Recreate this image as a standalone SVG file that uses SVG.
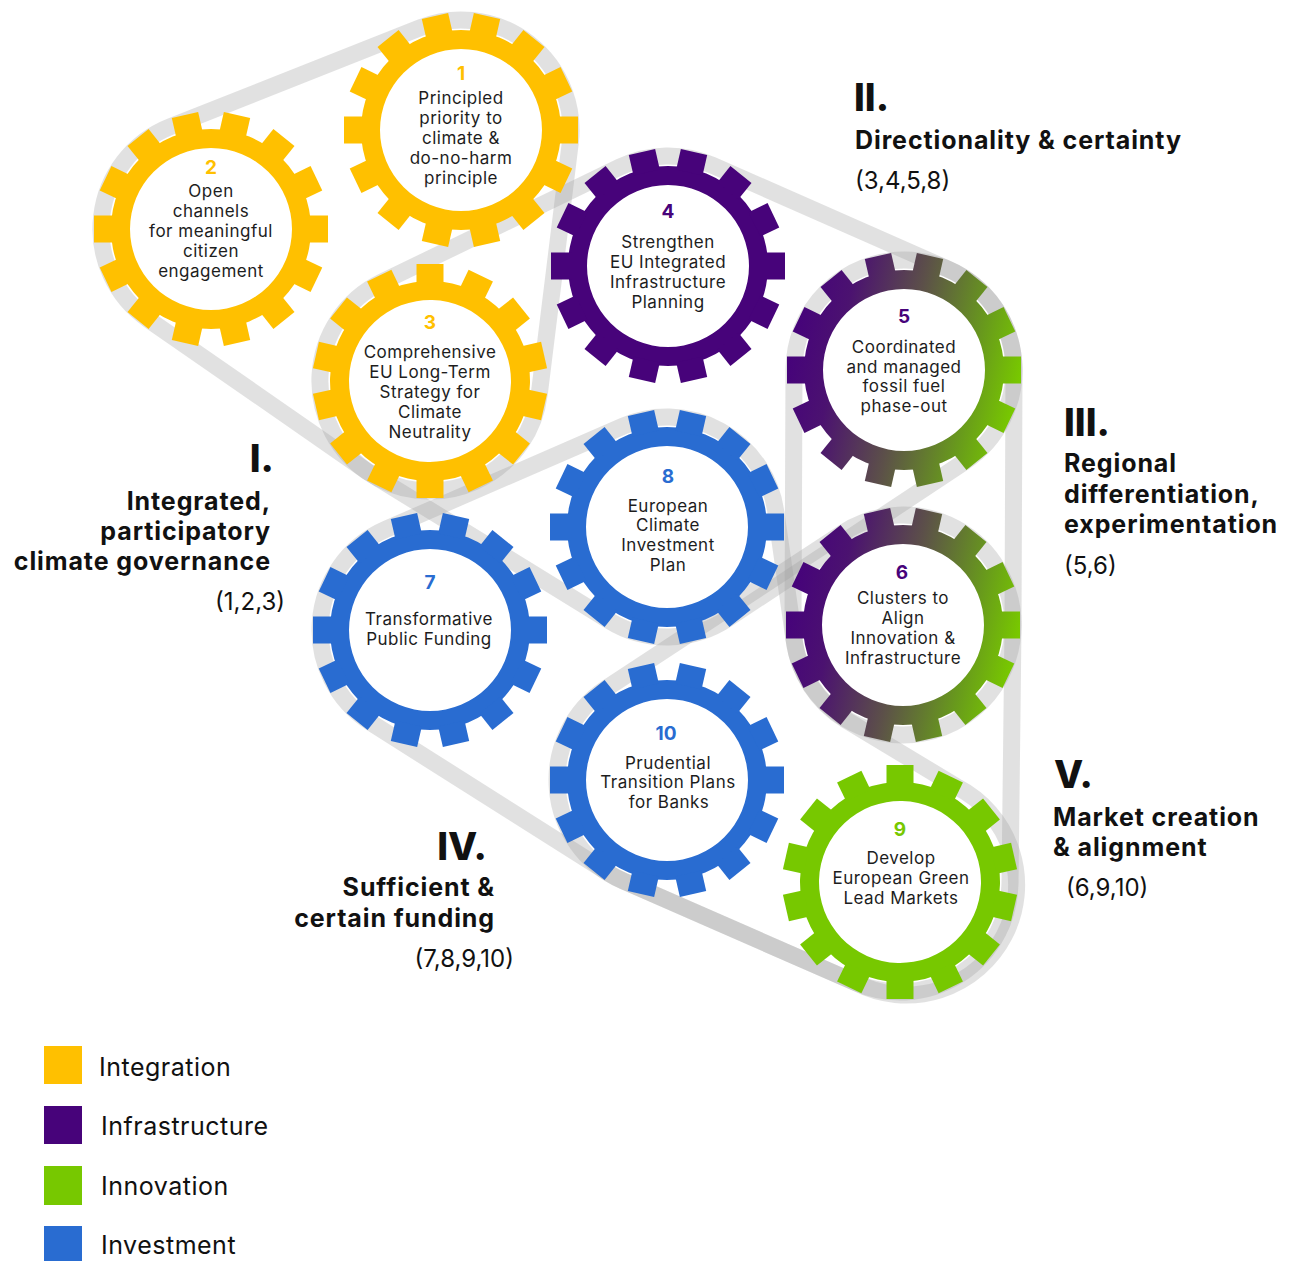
<svg xmlns="http://www.w3.org/2000/svg" xmlns:xlink="http://www.w3.org/1999/xlink" width="1296" height="1261" viewBox="0 0 1296 1261">
<defs>
<style>
.belt{fill:none;stroke:#9b9b9b;stroke-opacity:.3;stroke-width:17;stroke-linejoin:round}
.t{font-family:Inter,"Noto Sans","DejaVu Sans",sans-serif;font-size:17px;letter-spacing:0.5px;fill:#1d1d1d;text-anchor:middle}
.n{font-family:Inter,"Noto Sans","DejaVu Sans",sans-serif;font-size:19px;font-weight:700;text-anchor:middle}
.h{font-family:Inter,"Noto Sans","DejaVu Sans",sans-serif;font-weight:800;font-size:38px;fill:#111}
.s{font-family:Inter,"Noto Sans","DejaVu Sans",sans-serif;font-weight:700;font-size:25px;letter-spacing:0.9px;fill:#111}
.p{font-family:Inter,"Noto Sans","DejaVu Sans",sans-serif;font-weight:400;font-size:24px;fill:#111}
.lg{font-family:Inter,"Noto Sans","DejaVu Sans",sans-serif;font-weight:400;font-size:25px;letter-spacing:0.5px;fill:#111}
.e{text-anchor:end}
</style>
<linearGradient id="gr" gradientUnits="userSpaceOnUse" x1="-112" y1="-25" x2="112" y2="25">
<stop offset="0" stop-color="#46037a"/>
<stop offset="0.2" stop-color="#4b1270"/>
<stop offset="0.5" stop-color="#5c5049"/>
<stop offset="0.8" stop-color="#689a1c"/>
<stop offset="1" stop-color="#78c800"/>
</linearGradient>
<g id="gshape">
<path fill-rule="evenodd" d="M100,0A100,100 0 1 1 -100,0A100,100 0 1 1 100,0ZM81,0A81,81 0 1 0 -81,0A81,81 0 1 0 81,0Z"/>
<rect x="-13.5" y="-117" width="27" height="21" transform="rotate(12.857)"/>
<rect x="-13.5" y="-117" width="27" height="21" transform="rotate(38.571)"/>
<rect x="-13.5" y="-117" width="27" height="21" transform="rotate(64.286)"/>
<rect x="-13.5" y="-117" width="27" height="21" transform="rotate(90)"/>
<rect x="-13.5" y="-117" width="27" height="21" transform="rotate(115.714)"/>
<rect x="-13.5" y="-117" width="27" height="21" transform="rotate(141.429)"/>
<rect x="-13.5" y="-117" width="27" height="21" transform="rotate(167.143)"/>
<rect x="-13.5" y="-117" width="27" height="21" transform="rotate(192.857)"/>
<rect x="-13.5" y="-117" width="27" height="21" transform="rotate(218.571)"/>
<rect x="-13.5" y="-117" width="27" height="21" transform="rotate(244.286)"/>
<rect x="-13.5" y="-117" width="27" height="21" transform="rotate(270)"/>
<rect x="-13.5" y="-117" width="27" height="21" transform="rotate(295.714)"/>
<rect x="-13.5" y="-117" width="27" height="21" transform="rotate(321.429)"/>
<rect x="-13.5" y="-117" width="27" height="21" transform="rotate(347.143)"/>
</g>
<g id="gear">
<circle r="81.5" fill="#fff"/>
<use xlink:href="#gshape" href="#gshape"/>
</g>
<mask id="gm" maskContentUnits="userSpaceOnUse">
<use xlink:href="#gshape" href="#gshape" fill="#fff"/>
</mask>
</defs>
<rect width="1296" height="1261" fill="#fff"/>

<g id="connectors">
<path id="belt-I" class="belt" d="M170.5,126.7 L420.5,27.7 A110,110 0 0 1 570.2,143.5 L539.2,394.5 A110,110 0 0 1 367.3,471.4 L148.3,319.4 A110,110 0 0 1 170.5,126.7 Z"/>
<path id="belt-II" class="belt" d="M382.1,281.9 L620.1,166.9 A110,110 0 0 1 712.4,165.3 L948.4,269.3 A110,110 0 0 1 964.7,461.7 L727.7,618.7 A110,110 0 0 1 609.3,620.7 L372.3,474.7 A110,110 0 0 1 382.1,281.9 Z"/>
<path id="belt-III" class="belt" d="M794,369.6 A110,110 0 0 1 1014,370.4 L1013,625.4 A110,110 0 0 1 793,624.6 Z"/>
<path id="belt-IV" class="belt" d="M386.2,529.1 L623.2,426.1 A110,110 0 0 1 775.8,511.6 L794.2,640.4 A110,110 0 0 0 845.9,720 L957.1,787 A110,110 0 0 1 855.9,982.8 L622.9,880.8 A110,110 0 0 1 608.2,872.9 L371.2,722.9 A110,110 0 0 1 386.2,529.1 Z"/>
<path id="belt-V" class="belt" d="M606.6,688.1 L842.6,533.1 A110,110 0 0 1 1013,626.3 L1010,883.3 A110,110 0 0 1 855.9,982.8 L622.9,880.8 A110,110 0 0 1 606.6,688.1 Z"/>
</g>

<g id="gear1">
<use xlink:href="#gear" href="#gear" transform="translate(461,130)" fill="#FFC000"/>
<text class="n" x="461" y="80" fill="#FFC000">1</text>
<text class="t" x="461" y="104">Principled</text>
<text class="t" x="461" y="124">priority to</text>
<text class="t" x="461" y="144">climate &amp;</text>
<text class="t" x="461" y="164">do-no-harm</text>
<text class="t" x="461" y="184">principle</text>
</g>
<g id="gear2">
<use xlink:href="#gear" href="#gear" transform="translate(211,229)" fill="#FFC000"/>
<text class="n" x="211" y="174" fill="#FFC000">2</text>
<text class="t" x="211" y="197">Open</text>
<text class="t" x="211" y="217">channels</text>
<text class="t" x="211" y="237">for meaningful</text>
<text class="t" x="211" y="257">citizen</text>
<text class="t" x="211" y="277">engagement</text>
</g>
<g id="gear3">
<use xlink:href="#gear" href="#gear" transform="translate(430,381) rotate(12.857)" fill="#FFC000"/>
<text class="n" x="430" y="329" fill="#FFC000">3</text>
<text class="t" x="430" y="358">Comprehensive</text>
<text class="t" x="430" y="378">EU Long-Term</text>
<text class="t" x="430" y="398">Strategy for</text>
<text class="t" x="430" y="418">Climate</text>
<text class="t" x="430" y="438">Neutrality</text>
</g>
<g id="gear4">
<use xlink:href="#gear" href="#gear" transform="translate(668,266)" fill="#47037A"/>
<text class="n" x="668" y="218" fill="#47037A">4</text>
<text class="t" x="668" y="248">Strengthen</text>
<text class="t" x="668" y="268">EU Integrated</text>
<text class="t" x="668" y="288">Infrastructure</text>
<text class="t" x="668" y="308">Planning</text>
</g>
<g id="gear5">
<g transform="translate(904,370)">
<circle r="81.5" fill="#fff"/>
<rect x="-120" y="-120" width="240" height="240" fill="url(#gr)" mask="url(#gm)"/>
</g>
<text class="n" x="904" y="323" fill="#47037A">5</text>
<text class="t" x="904" y="353">Coordinated</text>
<text class="t" x="904" y="373">and managed</text>
<text class="t" x="904" y="392">fossil fuel</text>
<text class="t" x="904" y="412">phase-out</text>
</g>
<g id="gear6">
<g transform="translate(903,625)">
<circle r="81.5" fill="#fff"/>
<rect x="-120" y="-120" width="240" height="240" fill="url(#gr)" mask="url(#gm)"/>
</g>
<text class="n" x="902" y="579" fill="#47037A">6</text>
<text class="t" x="903" y="604">Clusters to</text>
<text class="t" x="903" y="624">Align</text>
<text class="t" x="903" y="644">Innovation &amp;</text>
<text class="t" x="903" y="664">Infrastructure</text>
</g>
<g id="gear7">
<use xlink:href="#gear" href="#gear" transform="translate(430,630)" fill="#296CD1"/>
<text class="n" x="430" y="589" fill="#296CD1">7</text>
<text class="t" x="429" y="625">Transformative</text>
<text class="t" x="429" y="645">Public Funding</text>
</g>
<g id="gear8">
<use xlink:href="#gear" href="#gear" transform="translate(667,527)" fill="#296CD1"/>
<text class="n" x="668" y="483" fill="#296CD1">8</text>
<text class="t" x="668" y="512">European</text>
<text class="t" x="668" y="531">Climate</text>
<text class="t" x="668" y="551">Investment</text>
<text class="t" x="668" y="571">Plan</text>
</g>
<g id="gear9">
<use xlink:href="#gear" href="#gear" transform="translate(900,882) rotate(12.857)" fill="#77C800"/>
<text class="n" x="900" y="836" fill="#77C800">9</text>
<text class="t" x="901" y="864">Develop</text>
<text class="t" x="901" y="884">European Green</text>
<text class="t" x="901" y="904">Lead Markets</text>
</g>
<g id="gear10">
<use xlink:href="#gear" href="#gear" transform="translate(667,780)" fill="#296CD1"/>
<text class="n" x="666" y="740" fill="#296CD1">10</text>
<text class="t" x="668" y="769">Prudential</text>
<text class="t" x="668" y="788">Transition Plans</text>
<text class="t" x="669" y="808">for Banks</text>
</g>

<g id="label-I">
<text class="h e" x="274" y="472">I.</text>
<text class="s e" x="271" y="510">Integrated,</text>
<text class="s e" x="271" y="540">participatory</text>
<text class="s e" x="271" y="570">climate governance</text>
<text class="p e" x="285" y="610">(1,2,3)</text>
</g>
<g id="label-II">
<text class="h" x="854" y="111">II.</text>
<text class="s" x="855" y="149">Directionality &amp; certainty</text>
<text class="p" x="855" y="189">(3,4,5,8)</text>
</g>
<g id="label-III">
<text class="h" x="1064" y="436">III.</text>
<text class="s" x="1064" y="472">Regional</text>
<text class="s" x="1064" y="503">differentiation,</text>
<text class="s" x="1064" y="533">experimentation</text>
<text class="p" x="1064" y="574">(5,6)</text>
</g>
<g id="label-IV">
<text class="h e" x="487" y="860">IV.</text>
<text class="s e" x="495" y="896">Sufficient &amp;</text>
<text class="s e" x="495" y="927">certain funding</text>
<text class="p e" x="514" y="967">(7,8,9,10)</text>
</g>
<g id="label-V">
<text class="h" x="1054" y="788">V.</text>
<text class="s" x="1053" y="826">Market creation</text>
<text class="s" x="1053" y="856">&amp; alignment</text>
<text class="p" x="1066" y="896">(6,9,10)</text>
</g>

<g id="legend">
<rect x="44" y="1046" width="38" height="38" fill="#FFC000"/>
<text class="lg" x="99" y="1076">Integration</text>
<rect x="44" y="1106" width="38" height="38" fill="#47037A"/>
<text class="lg" x="101" y="1135">Infrastructure</text>
<rect x="44" y="1166" width="38" height="39" fill="#77C800"/>
<text class="lg" x="101" y="1195">Innovation</text>
<rect x="44" y="1226" width="38" height="35" fill="#296CD1"/>
<text class="lg" x="101" y="1254">Investment</text>
</g>
</svg>
